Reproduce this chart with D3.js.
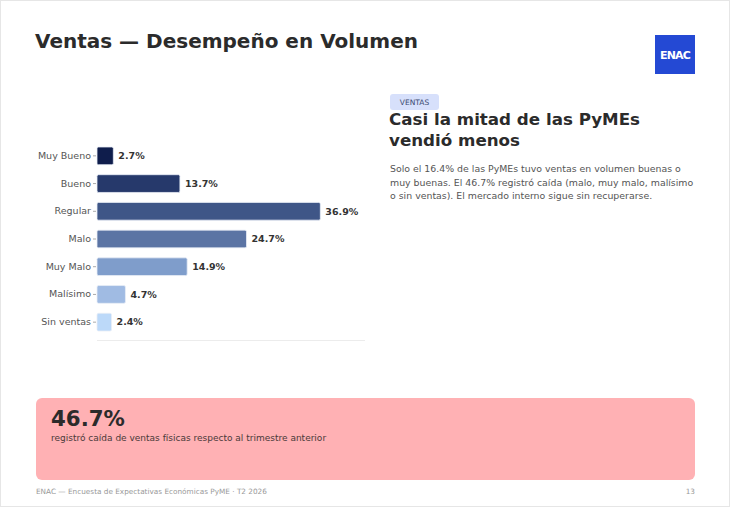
<!DOCTYPE html>
<html>
<head>
<meta charset="utf-8">
<script src="https://cdn.jsdelivr.net/npm/d3@7"></script>
<style>
  html, body { margin: 0; padding: 0; background: #fff; }
  svg { display: block; font-family: "DejaVu Sans", sans-serif; }
</style>
</head>
<body>
<svg id="slide" width="730" height="507"></svg>
<script>
const categories = ['Muy Bueno', 'Bueno', 'Regular', 'Malo', 'Muy Malo', 'Malísimo', 'Sin ventas']
const values = [2.7, 13.7, 36.9, 24.7, 14.9, 4.7, 2.4]
const barColors = ['#0f1d4c', '#26396b', '#3f5687', '#5b74a4', '#7f9dcb', '#a0bbe3', '#bcd9f9']

const headline = ['Casi la mitad de las PyMEs', 'vendió menos']
const bodyLines = [
	'Solo el 16.4% de las PyMEs tuvo ventas en volumen buenas o',
	'muy buenas. El 46.7% registró caída (malo, muy malo, malísimo',
	'o sin ventas). El mercado interno sigue sin recuperarse.'
]

const svg = d3.select('#slide')

// frame
svg.append('rect')
.attr('x', 0.5).attr('y', 0.5)
.attr('width', 729).attr('height', 506)
.attr('fill', '#fff')
.attr('stroke', '#e6e6e6')

svg.append('text')
.attr('x', 35).attr('y', 48)
.attr('font-size', 20)
.attr('font-weight', 'bold')
.attr('fill', '#2b2b2b')
.text('Ventas — Desempeño en Volumen')

// logo
const logo = svg.append('g').attr('transform', 'translate(655,35)')
logo.append('rect').attr('width', 40).attr('height', 39).attr('fill', '#2449d4')
logo.append('text')
.attr('x', 20).attr('y', 24)
.attr('text-anchor', 'middle')
.attr('font-size', 11)
.attr('font-weight', 'bold')
.attr('letter-spacing', -0.8)
.attr('fill', '#fff')
.text('ENAC')

// bar chart
const x = d3.scaleLinear()
.domain([0, d3.max(values) * 1.2])
.range([97, 365])

const y = d3.scaleBand()
.domain(categories)
.range([142, 336])
.paddingInner(0.36)
.paddingOuter(0.18)

const chart = svg.append('g')

chart.append('line')
.attr('x1', x(0)).attr('x2', x.range()[1])
.attr('y1', 340.5).attr('y2', 340.5)
.attr('stroke', '#ececec')

const yAxis = chart.append('g')
.attr('transform', `translate(${x(0) - 1},0)`)
.call(d3.axisLeft(y).tickSize(3).tickPadding(2))

yAxis.select('.domain').remove()
yAxis.selectAll('.tick line').attr('stroke', '#aaa')
yAxis.selectAll('.tick text')
.attr('font-family', '"DejaVu Sans", sans-serif')
.attr('font-size', 9.5)
.attr('fill', '#555')

chart.selectAll('rect.bar')
.data(values)
.enter()
.append('rect')
.attr('class', 'bar')
.attr('x', x(0))
.attr('y', (d, i) => y(categories[i]))
.attr('width', d => x(d) - x(0))
.attr('height', y.bandwidth())
.attr('rx', 1.5)
.attr('fill', (d, i) => barColors[i])
.attr('stroke', '#e8edf6')
.attr('stroke-width', 0.8)

chart.selectAll('text.val')
.data(values)
.enter()
.append('text')
.attr('class', 'val')
.attr('x', d => x(d) + 5)
.attr('y', (d, i) => y(categories[i]) + y.bandwidth() / 2)
.attr('dy', '0.35em')
.attr('font-size', 9.5)
.attr('font-weight', 'bold')
.attr('fill', '#333')
.text(d => d.toFixed(1) + '%')

// right panel
svg.append('rect')
.attr('x', 390).attr('y', 94)
.attr('width', 49).attr('height', 16)
.attr('rx', 3)
.attr('fill', '#d7e0fb')

svg.append('text')
.attr('x', 414.5).attr('y', 105)
.attr('text-anchor', 'middle')
.attr('font-size', 7.5)
.attr('fill', '#3a4a70')
.text('VENTAS')

svg.append('g')
.selectAll('text')
.data(headline)
.enter()
.append('text')
.attr('x', 389)
.attr('y', (d, i) => 125 + i * 21)
.attr('font-size', 16.7)
.attr('font-weight', 'bold')
.attr('fill', '#2b2b2b')
.text(d => d)

svg.append('g')
.selectAll('text')
.data(bodyLines)
.enter()
.append('text')
.attr('x', 390)
.attr('y', (d, i) => 172 + i * 13.5)
.attr('font-size', 9.4)
.attr('fill', '#555')
.text(d => d)

// callout box
svg.append('rect')
.attr('x', 36).attr('y', 398)
.attr('width', 659).attr('height', 82)
.attr('rx', 6)
.attr('fill', '#ffb1b4')

svg.append('text')
.attr('x', 51).attr('y', 426)
.attr('font-size', 21.3)
.attr('font-weight', 'bold')
.attr('fill', '#2b2b2b')
.text('46.7%')

svg.append('text')
.attr('x', 51).attr('y', 441)
.attr('font-size', 9)
.attr('fill', '#4a3a3a')
.text('registró caída de ventas físicas respecto al trimestre anterior')

// footer
svg.append('text')
.attr('x', 36).attr('y', 494)
.attr('font-size', 7.3)
.attr('fill', '#999')
.text('ENAC — Encuesta de Expectativas Económicas PyME · T2 2026')

svg.append('text')
.attr('x', 695).attr('y', 494)
.attr('text-anchor', 'end')
.attr('font-size', 7.3)
.attr('fill', '#999')
.text('13')
</script>
</body>
</html>
